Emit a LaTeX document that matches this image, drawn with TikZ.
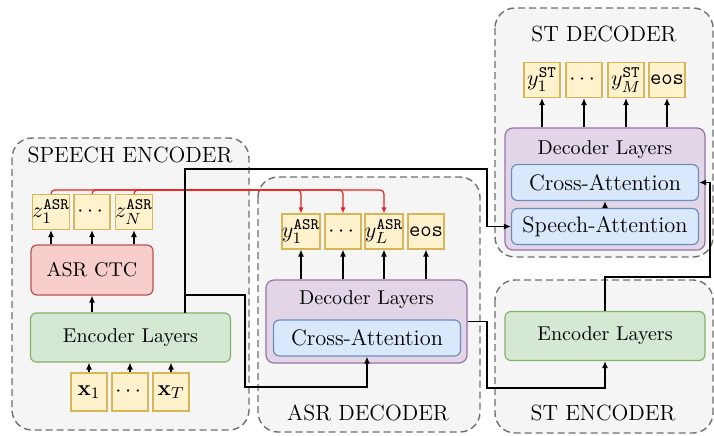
\documentclass[tikz,border=0pt]{standalone}
\usepackage{amsmath,amssymb}
\usetikzlibrary{arrows.meta}
\definecolor{grpfill}{HTML}{F5F5F5}
\definecolor{grpline}{HTML}{707070}
\definecolor{tokfill}{HTML}{FFF2CC}
\definecolor{tokline}{HTML}{D6B656}
\definecolor{ctcfill}{HTML}{F8CECC}
\definecolor{ctcline}{HTML}{B85450}
\definecolor{encfill}{HTML}{D5E8D4}
\definecolor{encline}{HTML}{82B366}
\definecolor{decfill}{HTML}{E1D5E7}
\definecolor{decline}{HTML}{9673A6}
\definecolor{attfill}{HTML}{DAE8FC}
\definecolor{attline}{HTML}{6C8EBF}
\definecolor{linkred}{HTML}{E8221B}

\begin{document}
\begin{tikzpicture}[x=0.5pt,y=-0.5pt,
  group/.style={draw=grpline,fill=grpfill,dash pattern=on 3.5pt off 2pt,line width=0.7pt,rounded corners=10pt},
  grptitle/.style={font=\fontsize{11}{13}\selectfont},
  tok/.style={rectangle,draw=tokline,fill=tokfill,line width=0.6pt,minimum width=18pt,minimum height=17.5pt,inner sep=0pt,font=\fontsize{11}{13}\selectfont},
  ctcbox/.style={rectangle,rounded corners=3pt,draw=ctcline,fill=ctcfill,line width=0.6pt,minimum width=61pt,minimum height=25pt},
  encbox/.style={rectangle,rounded corners=3pt,draw=encline,fill=encfill,line width=0.6pt,minimum width=100pt,minimum height=24.5pt},
  decbox/.style={rectangle,rounded corners=4pt,draw=decline,fill=decfill,line width=0.6pt},
  attbox/.style={rectangle,rounded corners=3pt,draw=attline,fill=attfill,line width=0.6pt,minimum width=93.5pt,minimum height=18pt,font=\fontsize{11.2}{13}\selectfont},
  flow/.style={-{Latex[length=3.5pt,width=3pt]},line width=0.8pt},
  redflow/.style={-{Latex[length=3pt,width=2.6pt]},draw=linkred,line width=0.6pt,rounded corners=2pt}]

\useasboundingbox (0,0) rectangle (714,435);

\draw[group] (12,138) rectangle (249,430);
\draw[group] (258,177) rectangle (480,432);
\draw[group] (495,8) rectangle (713,257);
\draw[group] (495,280) rectangle (713,433);

\node[grptitle] (setitle) at (130,155) {SPEECH ENCODER};
\node[grptitle] (adtitle) at (368,413) {ASR DECODER};
\node[grptitle] (sdtitle) at (604,34) {ST DECODER};
\node[grptitle] (settitle) at (603,413) {ST ENCODER};

% speech encoder
\node[tok] (z1) at (51,212) {$z_1^{\mathtt{ASR}}$};
\node[tok] (zd) at (92,212) {$\cdots$};
\node[tok] (zN) at (134,212) {$z_N^{\mathtt{ASR}}$};
\node[ctcbox] (ctc) at (92,270) {ASR CTC};
\node[encbox] (enc) at (130.5,337.5) {Encoder Layers};
\node[tok,minimum height=19pt] (x1) at (89,392) {$\mathbf{x}_1$};
\node[tok,minimum height=19pt] (xd) at (130,392) {$\cdots$};
\node[tok,minimum height=19pt] (xT) at (171,392) {$\mathbf{x}_T$};

% asr decoder
\node[decbox,minimum width=100.5pt,minimum height=41.5pt] (adec) at (366.5,321.5) {};
\node (adlab) at (366.5,300) {Decoder Layers};
\node[attbox] (axatt) at (367,338) {Cross-Attention};
\node[tok] (y1) at (301,231.5) {$y_1^{\mathtt{ASR}}$};
\node[tok] (yd) at (343,231.5) {$\cdots$};
\node[tok] (yL) at (384,231.5) {$y_L^{\mathtt{ASR}}$};
\node[tok] (ye) at (426,231.5) {\texttt{eos}};

% st decoder
\node[decbox,minimum width=100pt,minimum height=61pt] (sdec) at (605,189) {};
\node (sdlab) at (605,150) {Decoder Layers};
\node[attbox] (sxatt) at (605,182.5) {Cross-Attention};
\node[attbox] (satt) at (605,226.5) {Speech-Attention};
\node[tok] (s1) at (542,80) {$y_1^{\mathtt{ST}}$};
\node[tok] (sd) at (584,80) {$\cdots$};
\node[tok] (sM) at (626,80) {$y_M^{\mathtt{ST}}$};
\node[tok] (se) at (667,80) {\texttt{eos}};

% st encoder
\node[encbox] (senc) at (605,336) {Encoder Layers};

\foreach \t in {x1,xd,xT} \draw[flow] (\t) -- (\t |- enc.south);
\draw[flow] (ctc |- enc.north) -- (ctc);
\foreach \t in {z1,zd,zN} \draw[flow] (\t |- ctc.north) -- (\t);
\foreach \t in {y1,yd,yL,ye} \draw[flow] (\t |- adec.north) -- (\t);
\foreach \t in {s1,sd,sM,se} \draw[flow] (\t |- sdec.north) -- (\t);
\draw[flow] (satt) -- (sxatt);

\draw[redflow] (z1.north) -- ++(0,-4) -| (y1.north);
\draw[redflow] (zd.north) -- ++(0,-4) -| (yd.north);
\draw[redflow] (zN.north) -- ++(0,-4) -| (yL.north);

\coordinate (tap) at (185,313);
\coordinate (fork) at (185,295);
\draw[flow] (tap) |- (487,169) |- (satt.west);
\draw[flow] (fork) -| (245,387) -| (axatt.south);
\draw[flow] (adec.east) -| (487,388) -| (senc.south);
\draw[flow] (senc.north) |- (710,277) |- (sxatt.east);
\end{tikzpicture}
\end{document}
